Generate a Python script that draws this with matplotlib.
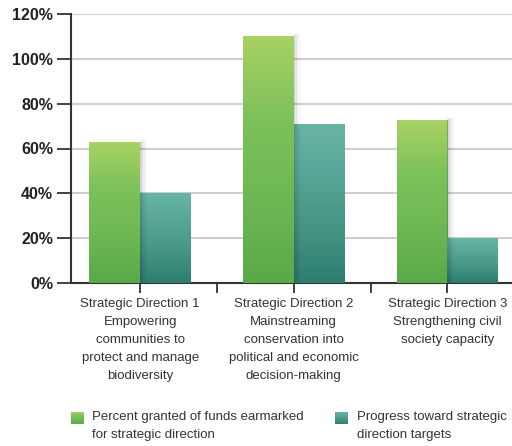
import numpy as np
import matplotlib
matplotlib.use("Agg")
import matplotlib.pyplot as plt
from matplotlib.colors import LinearSegmentedColormap

categories = [
    "Strategic Direction 1\nEmpowering\ncommunities to\nprotect and manage\nbiodiversity",
    "Strategic Direction 2\nMainstreaming\nconservation into\npolitical and economic\ndecision-making",
    "Strategic Direction 3\nStrengthening civil\nsociety capacity",
]
percent_granted = [62.5, 110, 72.5]
progress = [40, 70.5, 20]
series_names = ["Percent granted of funds earmarked\nfor strategic direction",
                "Progress toward strategic\ndirection targets"]
yticks = [0, 20, 40, 60, 80, 100, 120]

green_cmap = LinearSegmentedColormap.from_list("g", ["#5aa848", "#6db853", "#7cc15a", "#a8d264"])
teal_cmap = LinearSegmentedColormap.from_list("t", ["#2b7e6f", "#449483", "#56a596", "#68b5a5"])

FONT = ["Liberation Sans", "DejaVu Sans"]

fig = plt.figure(figsize=(5.12, 4.46), dpi=100)
ax = fig.add_axes([71/512, 1-283/446, 1-71/512, (283-14)/446])

x = np.arange(len(categories))
w = 0.33
grad = np.linspace(0, 1, 256).reshape(-1, 1)

def grad_bars(xpos, vals, cmap, shadow=True):
    bars = ax.bar(xpos, vals, w, color="none", edgecolor="none", zorder=3)
    for b in bars:
        x0, y0, bw, bh = b.get_x(), b.get_y(), b.get_width(), b.get_height()
        if shadow:
            for k, a in enumerate([0.06, 0.045, 0.03, 0.02, 0.01]):
                ax.add_patch(plt.Rectangle((x0 + bw, y0), 0.01*(k+1), bh + 0.3*(k+1), color="black",
                                           alpha=a, lw=0, zorder=4.5))
        ax.imshow(grad, cmap=cmap, origin="lower", aspect="auto",
                  extent=[x0, x0 + bw, y0, y0 + bh], zorder=4, interpolation="bilinear")
    return bars

grad_bars(x - w/2, percent_granted, green_cmap, shadow=True)
grad_bars(x + w/2, progress, teal_cmap, shadow=False)

ax.set_xlim(-0.45, 2.42)
ax.set_ylim(0, 120)
ax.set_yticks(yticks)
ax.set_yticklabels([f"{v}%" for v in yticks], fontfamily=FONT, fontweight="bold",
                   fontsize=11.5, color="#222222")
ax.yaxis.grid(True, color="#cfcfcf", lw=1.5, zorder=0)
ax.set_axisbelow(True)

ax.set_xticks(x)
ax.set_xticklabels(categories, fontfamily=FONT, fontsize=9.5, color="#333333",
                   linespacing=1.66)
ax.set_xticks([0.5, 1.5], minor=True)
ax.tick_params(axis="x", which="both", direction="out", length=7, width=1.3, color="#333333", pad=4)
ax.tick_params(axis="y", direction="out", length=10, width=1.3, color="#333333", pad=3)

for s in ["top", "right"]:
    ax.spines[s].set_visible(False)
for s in ["left", "bottom"]:
    ax.spines[s].set_color("#333333")
    ax.spines[s].set_linewidth(1.5)

# legend
def legend_item(px, tx, cmap, label):
    la = fig.add_axes([px/512, 1-424/446, 13/512, 12/446])
    la.imshow(grad, cmap=cmap, origin="lower", aspect="auto", interpolation="bilinear")
    la.axis("off")
    fig.text(tx/512, 1-411/446, label, ha="left", va="top", fontfamily=FONT,
             fontsize=9.5, color="#333333", linespacing=1.66)

legend_item(71, 92, green_cmap, series_names[0])
legend_item(335, 357, teal_cmap, series_names[1])

fig.savefig("out.png", dpi=100)
